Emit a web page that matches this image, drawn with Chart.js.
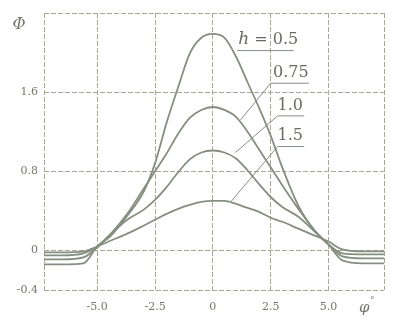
<!DOCTYPE html>
<html>
<head>
<meta charset="utf-8">
<script src="https://cdn.jsdelivr.net/npm/chart.js@4"></script>
<style>
  html, body { margin: 0; padding: 0; background: #fff; }
  canvas { display: block; }
</style>
</head>
<body>
<canvas id="chart" width="395" height="321"></canvas>
<script>
const phi = [-7.3, -6.5, -5.6, -5, -4.4, -3.7, -3, -2.5, -2, -1.5, -1, -0.5, 0,
             0.5, 1, 1.5, 2, 2.5, 3, 3.7, 4.4, 5, 5.6, 6.5, 7.4];

// Phi for each h
const h05  = [-0.14, -0.14, -0.13, 0.04, 0.15, 0.35, 0.59, 0.88, 1.29, 1.65, 1.99, 2.15, 2.19,
              2.15, 1.96, 1.70, 1.44, 1.16, 0.84, 0.45, 0.20, 0.06, -0.10, -0.13, -0.13];
const h075 = [-0.09, -0.09, -0.07, 0.03, 0.17, 0.37, 0.62, 0.80, 0.98, 1.18, 1.34, 1.42, 1.45,
              1.42, 1.35, 1.20, 1.02, 0.84, 0.66, 0.42, 0.20, 0.06, -0.06, -0.08, -0.08];
const h10  = [-0.05, -0.05, -0.03, 0.04, 0.17, 0.31, 0.41, 0.51, 0.64, 0.79, 0.92, 0.99, 1.01,
              0.99, 0.93, 0.81, 0.67, 0.54, 0.44, 0.34, 0.19, 0.06, -0.03, -0.04, -0.04];
const h15  = [-0.02, -0.02, -0.01, 0.04, 0.10, 0.17, 0.25, 0.31, 0.37, 0.42, 0.46, 0.49, 0.50,
              0.50, 0.47, 0.43, 0.39, 0.33, 0.29, 0.22, 0.15, 0.09, 0.01, -0.01, -0.01];

const xTicks = [-5, -2.5, 0, 2.5, 5];
const xTickLabels = ['-5.0', '-2.5', '0', '2.5', '5.0'];
const yTicks = [-0.4, 0, 0.8, 1.6];
const yTickLabels = ['-0.4', '0', '0.8', '1.6'];
const hLabels = ['0.5', '0.75', '1.0', '1.5'];

const lineColor = '#858f80';
const gridColor = '#ada792';
const textColor = '#76766c';

function toPoints(ys) {
    return phi.map((x, i) => ({ x: x, y: ys[i] }));
}

function makeSet(ys) {
    return {
        data: toPoints(ys),
        borderColor: lineColor,
        borderWidth: 1.8,
        pointRadius: 0,
        cubicInterpolationMode: 'monotone',
        fill: false
    };
}

// labels h = ..., their underlines and leader lines to the curves
const labelPlugin = {
    id: 'labels',
    afterDatasetsDraw(chart) {
        const ctx = chart.ctx;
        const xs = chart.scales.x, ys = chart.scales.y;
        const px = v => xs.getPixelForValue(v);
        const py = v => ys.getPixelForValue(v);
        const spots = [
            { x: 1.1, y: 2.09, ux: [1.05, 3.5], uy: 2.02, lead: null },
            { x: 2.6, y: 1.75, ux: [2.5, 4.15], uy: 1.69, lead: [1.2, 1.32] },
            { x: 2.8, y: 1.42, ux: [2.8, 3.95], uy: 1.36, lead: [0.98, 0.99] },
            { x: 2.8, y: 1.12, ux: [2.8, 3.95], uy: 1.05, lead: [0.77, 0.49] }
        ];
        ctx.save();
        ctx.fillStyle = '#6a6a62';
        ctx.strokeStyle = lineColor;
        ctx.lineWidth = 1;
        ctx.textBaseline = 'alphabetic';
        ctx.textAlign = 'left';
        spots.forEach((s, i) => {
            let x0 = px(s.x);
            if (i === 0) {
                ctx.font = 'italic 17px "DejaVu Serif"';
                ctx.fillText('h', x0, py(s.y));
                x0 += ctx.measureText('h').width;
                ctx.font = '16px "DejaVu Serif"';
                ctx.fillText(' = ' + hLabels[i], x0, py(s.y));
            } else {
                ctx.font = '16px "DejaVu Serif"';
                ctx.fillText(hLabels[i], x0, py(s.y));
            }
            ctx.beginPath();
            ctx.moveTo(px(s.ux[0]), py(s.uy));
            ctx.lineTo(px(s.ux[1]), py(s.uy));
            if (s.lead) {
                ctx.moveTo(px(s.ux[0]), py(s.uy));
                ctx.lineTo(px(s.lead[0]), py(s.lead[1]));
            }
            ctx.stroke();
        });
        // axis symbols
        ctx.fillStyle = textColor;
        ctx.font = 'italic 16px "DejaVu Serif"';
        ctx.textAlign = 'center';
        ctx.textBaseline = 'middle';
        const area = chart.chartArea;
        ctx.fillText('\u03A6', area.left - 25, area.top + 12);
        ctx.font = 'italic 15px "DejaVu Serif"';
        ctx.fillText('\u03C6', px(6.55), area.bottom + 18);
        ctx.font = '9px "DejaVu Serif"';
        ctx.fillText('\u00B0', px(6.55) + 8, area.bottom + 11);
        ctx.restore();
    }
};

new Chart(document.getElementById('chart'), {
    type: 'line',
    data: {
        datasets: [makeSet(h05), makeSet(h075), makeSet(h10), makeSet(h15)]
    },
    options: {
        responsive: false,
        animation: false,
        devicePixelRatio: 1,
        layout: { padding: { top: 13, right: 3, left: 0, bottom: 0 } },
        plugins: { legend: { display: false }, tooltip: { enabled: false } },
        scales: {
            x: {
                type: 'linear',
                min: -7.3,
                max: 7.4,
                afterBuildTicks: s => {
                    s.ticks = [s.min].concat(xTicks, [s.max]).map(v => ({ value: v }));
                },
                afterFit: s => { s.height = 31; },
                grid: { color: gridColor, lineWidth: 1, drawTicks: false },
                border: { display: false, dash: [5, 2] },
                ticks: {
                    color: textColor,
                    font: { family: 'DejaVu Serif', size: 11 },
                    padding: 11,
                    maxRotation: 0,
                    autoSkip: false,
                    callback: v => {
                        const i = xTicks.indexOf(v);
                        return i < 0 ? '' : xTickLabels[i];
                    }
                }
            },
            y: {
                type: 'linear',
                min: -0.4,
                max: 2.4,
                afterBuildTicks: s => {
                    s.ticks = yTicks.concat([s.max]).map(v => ({ value: v }));
                },
                afterFit: s => { s.width = 44; },
                grid: { color: gridColor, lineWidth: 1, drawTicks: false },
                border: { display: false, dash: [5, 2] },
                ticks: {
                    color: textColor,
                    font: { family: 'DejaVu Serif', size: 11 },
                    padding: 6,
                    autoSkip: false,
                    callback: v => {
                        const i = yTicks.indexOf(v);
                        return i < 0 ? '' : yTickLabels[i];
                    }
                }
            }
        }
    },
    plugins: [labelPlugin]
});
</script>
</body>
</html>
